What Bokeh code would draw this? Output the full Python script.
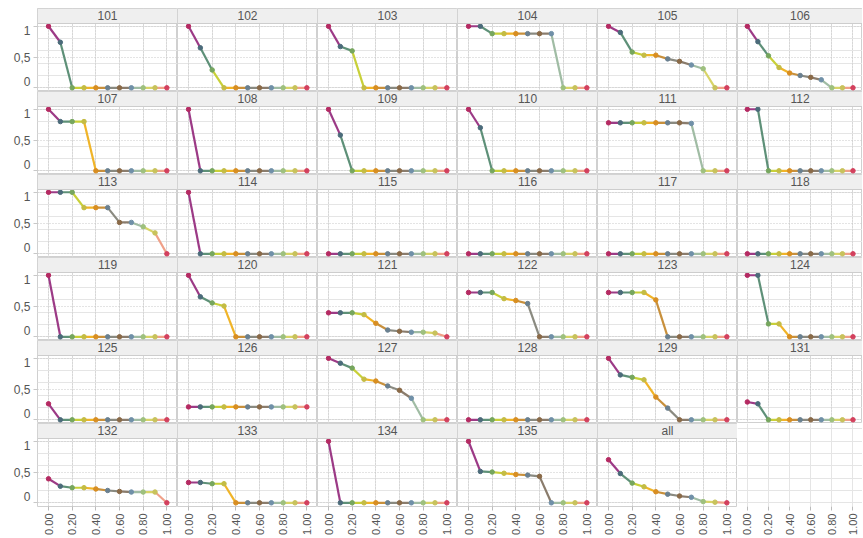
from bokeh.plotting import figure
from bokeh.layouts import gridplot
from bokeh.models import Range1d, FixedTicker, LinearAxis, Grid, BoxAnnotation, Label
from bokeh.embed import file_html
from bokeh.resources import INLINE

# ---------------- data ----------------
xs = [0.0, 0.1, 0.2, 0.3, 0.4, 0.5, 0.6, 0.7, 0.8, 0.9, 1.0]
x_ticks = [0.0, 0.2, 0.4, 0.6, 0.8, 1.0]
x_tick_labels = ["0.00", "0.20", "0.40", "0.60", "0.80", "1.00"]
y_ticks = [0.0, 0.5, 1.0]
y_tick_labels = ["0", "0,5", "1"]

panel_names = ["101", "102", "103", "104", "105", "106",
               "107", "108", "109", "110", "111", "112",
               "113", "114", "115", "116", "117", "118",
               "119", "120", "121", "122", "123", "124",
               "125", "126", "127", "128", "129", "131",
               "132", "133", "134", "135", "all"]

s101 = [1.0, 0.74, 0, 0, 0, 0, 0, 0, 0, 0, 0]
s102 = [1.0, 0.65, 0.29, 0, 0, 0, 0, 0, 0, 0, 0]
s103 = [1.0, 0.67, 0.60, 0, 0, 0, 0, 0, 0, 0, 0]
s104 = [1.0, 1.0, 0.88, 0.88, 0.88, 0.88, 0.88, 0.88, 0, 0, 0]
s105 = [1.0, 0.90, 0.58, 0.53, 0.53, 0.47, 0.43, 0.37, 0.31, 0, 0]
s106 = [1.0, 0.75, 0.52, 0.33, 0.24, 0.20, 0.17, 0.13, 0, 0, 0]
s107 = [1.0, 0.80, 0.80, 0.80, 0, 0, 0, 0, 0, 0, 0]
s108 = [1.0, 0, 0, 0, 0, 0, 0, 0, 0, 0, 0]
s109 = [1.0, 0.58, 0, 0, 0, 0, 0, 0, 0, 0, 0]
s110 = [1.0, 0.70, 0, 0, 0, 0, 0, 0, 0, 0, 0]
s111 = [0.78, 0.78, 0.78, 0.78, 0.78, 0.78, 0.78, 0.77, 0, 0, 0]
s112 = [1.0, 1.0, 0, 0, 0, 0, 0, 0, 0, 0, 0]
s113 = [1.0, 1.0, 1.0, 0.75, 0.75, 0.75, 0.51, 0.51, 0.44, 0.34, 0]
s114 = [1.0, 0, 0, 0, 0, 0, 0, 0, 0, 0, 0]
s115 = [0, 0, 0, 0, 0, 0, 0, 0, 0, 0, 0]
s116 = [0, 0, 0, 0, 0, 0, 0, 0, 0, 0, 0]
s117 = [0, 0, 0, 0, 0, 0, 0, 0, 0, 0, 0]
s118 = [0, 0, 0, 0, 0, 0, 0, 0, 0, 0, 0]
s119 = [1.0, 0, 0, 0, 0, 0, 0, 0, 0, 0, 0]
s120 = [1.0, 0.65, 0.55, 0.50, 0, 0, 0, 0, 0, 0, 0]
s121 = [0.39, 0.39, 0.39, 0.36, 0.22, 0.11, 0.09, 0.075, 0.075, 0.06, 0]
s122 = [0.72, 0.72, 0.72, 0.62, 0.59, 0.54, 0, 0, 0, 0, 0]
s123 = [0.72, 0.72, 0.72, 0.72, 0.60, 0, 0, 0, 0, 0, 0]
s124 = [1.0, 1.0, 0.21, 0.21, 0, 0, 0, 0, 0, 0, 0]
s125 = [0.26, 0, 0, 0, 0, 0, 0, 0, 0, 0, 0]
s126 = [0.21, 0.21, 0.21, 0.21, 0.21, 0.21, 0.21, 0.21, 0.21, 0.21, 0.21]
s127 = [1.0, 0.92, 0.84, 0.66, 0.63, 0.55, 0.48, 0.35, 0, 0, 0]
s128 = [0, 0, 0, 0, 0, 0, 0, 0, 0, 0, 0]
s129 = [1.0, 0.73, 0.69, 0.65, 0.37, 0.19, 0, 0, 0, 0, 0]
s131 = [0.29, 0.26, 0, 0, 0, 0, 0, 0, 0, 0, 0]
s132 = [0.39, 0.27, 0.245, 0.245, 0.225, 0.20, 0.185, 0.175, 0.175, 0.175, 0]
s133 = [0.33, 0.33, 0.31, 0.31, 0, 0, 0, 0, 0, 0, 0]
s134 = [1.0, 0, 0, 0, 0, 0, 0, 0, 0, 0, 0]
s135 = [1.0, 0.51, 0.50, 0.48, 0.46, 0.45, 0.43, 0, 0, 0, 0]
s_all = [0.70, 0.475, 0.32, 0.26, 0.18, 0.14, 0.11, 0.09, 0.02, 0.01, 0]

series = [s101, s102, s103, s104, s105, s106,
          s107, s108, s109, s110, s111, s112,
          s113, s114, s115, s116, s117, s118,
          s119, s120, s121, s122, s123, s124,
          s125, s126, s127, s128, s129, s131,
          s132, s133, s134, s135, s_all]

# ---------------- styles ----------------
point_colors = ["#b52a62", "#4b6b7a", "#76a65e", "#c4bc44", "#d88e22", "#6a8090",
                "#8a6a48", "#7090a8", "#9ec07e", "#c8c25c", "#d3405e"]
segment_colors = ["#9c3a86", "#5e9078", "#c8d038", "#f0b428", "#c8903c",
                  "#8a8a80", "#8a7c6c", "#a0bca4", "#d8d468", "#f0a088"]

FONT = "Liberation Sans"
NCOLS, NROWS = 6, 6
COL_W = [140, 140, 140, 140, 140, 125]
ROW_H = 83
PAGE_PAD = 8
LEFT_AX = 29
BOTTOM_AX = 31
Y0, Y1 = -0.06, 1.045
HEADER = 0.2437
X0, X1 = -0.093, 1.09
PX_PER_Y = 83 / (Y1 + HEADER - Y0)
# label nudges (pixels, up positive) so that labels stay inside their row
y_label_nudge = [6, 0, -4]
y_label_pos = [t + n / PX_PER_Y for t, n in zip(y_ticks, y_label_nudge)]


def base_fig(w, h, left, bottom, top):
    p = figure(width=w, height=h, output_backend="svg", toolbar_location=None,
               x_range=Range1d(X0, X1), y_range=Range1d(Y0, Y1 + HEADER),
               x_axis_location=None, y_axis_location=None,
               min_border_left=left, min_border_right=0,
               min_border_top=top, min_border_bottom=bottom)
    p.background_fill_color = "white"
    p.border_fill_color = "white"
    return p


def add_x_axis(p):
    ax = LinearAxis(ticker=FixedTicker(ticks=x_ticks))
    ax.major_label_overrides = {t: l for t, l in zip(x_ticks, x_tick_labels)}
    ax.major_label_orientation = 1.5707963
    ax.axis_line_color = None
    ax.major_tick_line_color = "#bbbbbb"
    ax.major_tick_out = 4
    ax.major_tick_in = 0
    ax.minor_tick_line_color = None
    ax.major_label_standoff = 3
    ax.major_label_text_font = FONT
    ax.major_label_text_font_size = "11px"
    ax.major_label_text_color = "#555555"
    p.add_layout(ax, "below")


def add_y_axis(p):
    # inner axis: tick stubs only
    ax = LinearAxis(ticker=FixedTicker(ticks=y_ticks))
    ax.major_label_overrides = {t: "" for t in y_ticks}
    ax.axis_line_color = None
    ax.major_tick_line_color = "#c8c8c8"
    ax.major_tick_out = 4
    ax.major_tick_in = 0
    ax.minor_tick_line_color = None
    ax.major_label_standoff = 0
    p.add_layout(ax, "left")
    # outer axis: labels, nudged to stay inside the row like the original
    lab = LinearAxis(ticker=FixedTicker(ticks=y_label_pos))
    lab.major_label_overrides = {t: l for t, l in zip(y_label_pos, y_tick_labels)}
    lab.axis_line_color = None
    lab.major_tick_line_color = None
    lab.minor_tick_line_color = None
    lab.major_tick_out = 0
    lab.major_tick_in = 0
    lab.major_label_standoff = 3
    lab.major_label_text_font = FONT
    lab.major_label_text_font_size = "12px"
    lab.major_label_text_color = "#555555"
    p.add_layout(lab, "left")


rows = []
for r in range(NROWS):
    row = []
    for c in range(NCOLS):
        idx = r * NCOLS + c
        left = (LEFT_AX + PAGE_PAD) if c == 0 else 0
        bottom = BOTTOM_AX if r == NROWS - 1 else 0
        top = PAGE_PAD if r == 0 else 0
        w = COL_W[c] + left
        h = ROW_H + bottom + top
        p = base_fig(w, h, left, bottom, top)
        if idx < len(series):
            name = panel_names[idx]
            ys = series[idx]
            p.outline_line_color = "#d0d0d0"
            p.add_layout(Grid(dimension=0, ticker=FixedTicker(ticks=x_ticks),
                              grid_line_color="#c8c8c8", grid_line_dash="1 2"))
            p.add_layout(Grid(dimension=1, ticker=FixedTicker(ticks=y_ticks),
                              grid_line_color="#c8c8c8", grid_line_dash="1 2"))
            p.segment(x0=xs[:-1], y0=ys[:-1], x1=xs[1:], y1=ys[1:],
                      line_color=segment_colors, line_width=2.2)
            p.scatter(x=xs, y=ys, size=4.5, marker="circle",
                      fill_color=point_colors, line_color=point_colors)
            hdr = BoxAnnotation(bottom=Y1, fill_color="#efefef", fill_alpha=1.0,
                                line_color="#cdcdcd", line_alpha=1.0, line_width=1)
            p.add_layout(hdr)
            p.add_layout(Label(x=0.5 * (X0 + X1), y=Y1 + HEADER / 2, text=name,
                               text_align="center", text_baseline="middle",
                               text_font=FONT, text_font_size="12px",
                               text_color="#555555", level="overlay"))
        else:
            p.outline_line_color = None
        if c == 0:
            add_y_axis(p)
        if r == NROWS - 1:
            add_x_axis(p)
        row.append(p)
    rows.append(row)

grid = gridplot(rows, toolbar_location=None)

open("out.html", "w").write(file_html(grid, INLINE))
